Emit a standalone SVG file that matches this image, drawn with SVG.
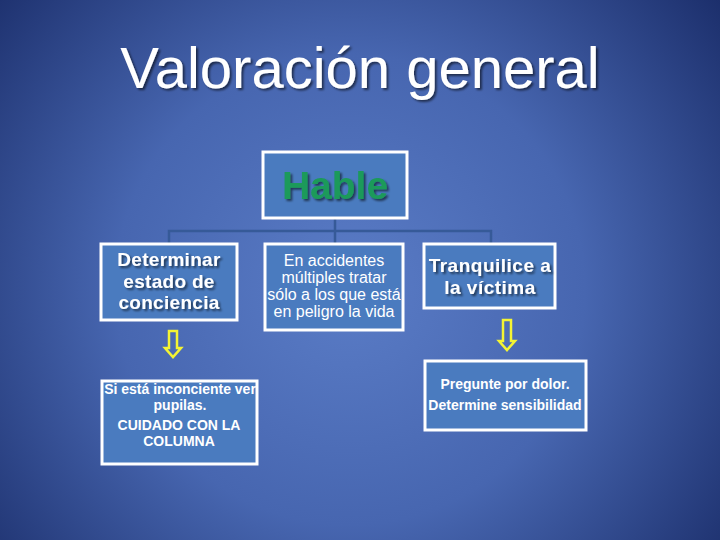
<svg xmlns="http://www.w3.org/2000/svg" width="720" height="540" viewBox="0 0 720 540">
<defs>
<radialGradient id="bg" cx="350" cy="290" r="470" gradientUnits="userSpaceOnUse">
<stop offset="0" stop-color="#5a7cc6"/>
<stop offset="0.5" stop-color="#4766b0"/>
<stop offset="1" stop-color="#1c2f6c"/>
</radialGradient>
<filter id="sh" x="-10%" y="-10%" width="120%" height="130%">
<feDropShadow dx="2" dy="2" stdDeviation="0.8" flood-color="#000" flood-opacity="0.55"/>
</filter>
<style>
.box{fill:#4a7bbf;stroke:#ffffff;stroke-width:3}
.conn{stroke:#365a98;stroke-width:2.5;fill:none}
.arrow{fill:none;stroke:#f4f433;stroke-width:2.5;stroke-linejoin:miter}
.t{font-family:"Liberation Sans",Arial,sans-serif;fill:#ffffff;text-anchor:middle}
.b{font-weight:bold}
</style>
</defs>
<rect width="720" height="540" fill="url(#bg)"/>
<text class="t" x="360" y="88" font-size="58" filter="url(#sh)">Valoración general</text>
<g id="connectors">
<path class="conn" d="M335 218 V231 M169 244 V231 H491 V244 M335 231 V244"/>
<path class="arrow" d="M169 331 H177 V348 H181 L173 357 L165 348 H169 Z"/>
<path class="arrow" d="M503 320 H511 V341 H515 L507 350 L499 341 H503 Z"/>
</g>
<g id="hable">
<rect class="box" x="263" y="152" width="144" height="66"/>
<text class="t b" x="335" y="199" font-size="39" style="fill:#1a9a5a" filter="url(#sh)">Hable</text>
</g>
<g id="determinar">
<rect class="box" x="101" y="244" width="136" height="76"/>
<text class="t b" font-size="19" letter-spacing="0.3" filter="url(#sh)"><tspan x="169" y="266">Determinar</tspan><tspan x="169" y="288">estado de</tspan><tspan x="169" y="309">conciencia</tspan></text>
</g>
<g id="accidentes">
<rect class="box" x="265" y="244" width="138" height="86"/>
<text class="t" font-size="16"><tspan x="334" y="266">En accidentes</tspan><tspan x="334" y="283">múltiples tratar</tspan><tspan x="334" y="300">sólo a los que está</tspan><tspan x="334" y="317">en peligro la vida</tspan></text>
</g>
<g id="tranquilice">
<rect class="box" x="424" y="244" width="131" height="64"/>
<text class="t b" font-size="19" letter-spacing="0.5" filter="url(#sh)"><tspan x="490" y="272">Tranquilice a</tspan><tspan x="490" y="294">la víctima</tspan></text>
</g>
<g id="inconciente">
<rect class="box" x="102" y="381" width="155" height="83"/>
<text class="t b" font-size="14"><tspan x="180" y="394">Si está inconciente ver</tspan><tspan x="180" y="410">pupilas.</tspan><tspan x="179" y="430">CUIDADO CON LA</tspan><tspan x="179" y="446">COLUMNA</tspan></text>
</g>
<g id="pregunte">
<rect class="box" x="425" y="361" width="161" height="69"/>
<text class="t b" font-size="14"><tspan x="505" y="389">Pregunte por dolor.</tspan><tspan x="505" y="410">Determine sensibilidad</tspan></text>
</g>
</svg>
